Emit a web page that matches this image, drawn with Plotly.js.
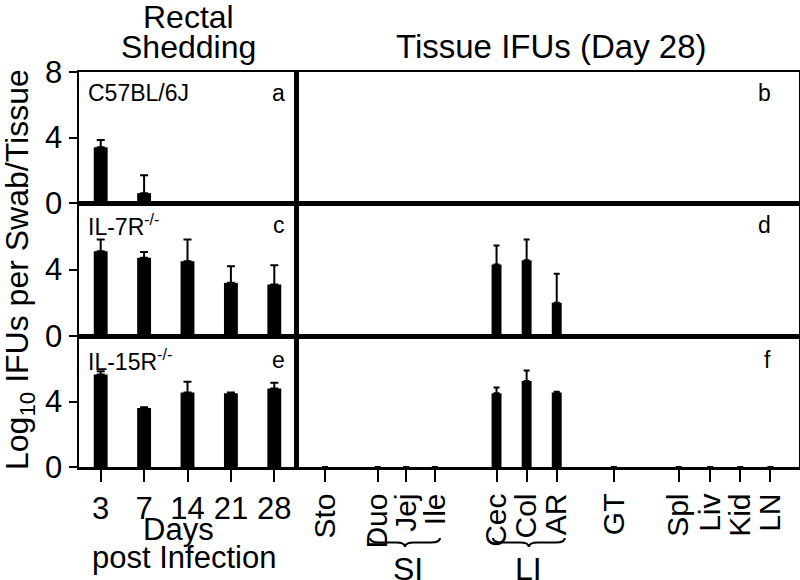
<!DOCTYPE html>
<html>
<head>
<meta charset="utf-8">
<script src="https://cdn.plot.ly/plotly-3.0.1.min.js"></script>
<style>
  html, body { margin: 0; padding: 0; background: #fff; }
  #chart { width: 800px; height: 580px; }
</style>
</head>
<body>
<div id="chart"></div>
<script>
// rectal shedding, log10 IFUs per swab
var days = ['3', '7', '14', '21', '28'];
var wtShed = [3.4, 0.6, 0, 0, 0];
var wtShedErr = [0.45, 1.1, 0, 0, 0];
var il7Shed = [5.1, 4.7, 4.5, 3.2, 3.1];
var il7ShedErr = [0.7, 0.35, 1.3, 1.0, 1.15];
var il15Shed = [5.65, 3.6, 4.55, 4.5, 4.8];
var il15ShedErr = [0.2, 0.05, 0.65, 0.05, 0.35];

// tissue IFUs at day 28
var tissues = ['Sto', 'Duo', 'Jej', 'Ile', 'Cec', 'Col', 'AR', 'GT', 'Spl', 'Liv', 'Kid', 'LN'];
var wtTissue = [0, 0, 0, 0, 0, 0, 0, 0, 0, 0, 0, 0];
var il7Tissue = [0, 0, 0, 0, 4.3, 4.55, 2.0, 0, 0, 0, 0, 0];
var il7TissueErr = [0, 0, 0, 0, 1.15, 1.25, 1.75, 0, 0, 0, 0, 0];
var il15Tissue = [0, 0, 0, 0, 4.5, 5.25, 4.55, 0, 0, 0, 0, 0];
var il15TissueErr = [0, 0, 0, 0, 0.35, 0.65, 0.05, 0, 0, 0, 0, 0];

var panelLabels = ['C57BL/6J', 'IL-7R<sup>-/-</sup>', 'IL-15R<sup>-/-</sup>'];
var panelLetters = ['a', 'b', 'c', 'd', 'e', 'f'];

// layout slots for the tissue axis (groups are spaced apart)
var tissueSlot = [0, 1.75, 2.7, 3.65, 5.7, 6.7, 7.7, 9.6, 11.75, 12.8, 13.8, 14.8];

var W = 800, H = 580;
function px(x) { return x / W; }
function py(y) { return (H - y) / H; }

var FONT = 'Liberation Sans, Arial, sans-serif';

// upper-only error bars
function upErr(errs, w) {
  if (!errs) return {visible: false};
  return {type: 'data', array: errs, symmetric: false,
    arrayminus: errs.map(function() { return 0; }),
    color: '#000', thickness: 2, width: w};
}
function shedTrace(vals, errs, n) {
  return {
    type: 'bar', x: days, y: vals, width: 0.32,
    xaxis: n === 1 ? 'x' : 'x' + n, yaxis: n === 1 ? 'y' : 'y' + n,
    marker: {color: '#000'}, error_y: upErr(errs, 4),
    hoverinfo: 'x+y', showlegend: false
  };
}
function tissueTrace(vals, errs, n) {
  return {
    type: 'bar', x: tissueSlot, y: vals, width: 0.33,
    xaxis: 'x' + n, yaxis: 'y' + n,
    marker: {color: '#000'}, error_y: upErr(errs, 3),
    hoverinfo: 'y', showlegend: false
  };
}

var data = [
  shedTrace(wtShed, wtShedErr, 1),
  tissueTrace(wtTissue, null, 2),
  shedTrace(il7Shed, il7ShedErr, 3),
  tissueTrace(il7Tissue, il7TissueErr, 4),
  shedTrace(il15Shed, il15ShedErr, 5),
  tissueTrace(il15Tissue, il15TissueErr, 6)
];

// panel rows in pixels (top, bottom)
var rows = [[72, 203], [203, 336], [336, 467]];
var leftCol = [79, 296], rightCol = [296, 799];

var layout = {
  width: W, height: H,
  margin: {l: 0, r: 0, t: 0, b: 0},
  paper_bgcolor: '#fff', plot_bgcolor: '#fff',
  font: {family: FONT, color: '#000', size: 31},
  annotations: [],
  shapes: []
};

function axKey(dir, n) { return dir + 'axis' + (n === 1 ? '' : n); }
function axId(dir, n) { return dir + (n === 1 ? '' : n); }

for (var r = 0; r < 3; r++) {
  var yDom = [py(rows[r][1]), py(rows[r][0])];
  var nL = 2 * r + 1, nR = 2 * r + 2;
  var bottom = (r === 2);
  layout[axKey('x', nL)] = {
    domain: [px(leftCol[0]), px(leftCol[1])], anchor: axId('y', nL),
    type: 'category', categoryorder: 'array', categoryarray: days,
    showline: true, mirror: true, linecolor: '#000', linewidth: 2.5,
    showgrid: false, zeroline: false,
    ticks: bottom ? 'outside' : '', ticklen: 12, tickwidth: 2, tickcolor: '#000',
    showticklabels: bottom, tickfont: {size: 31, family: FONT}
  };
  layout[axKey('x', nR)] = {
    domain: [px(rightCol[0]), px(rightCol[1])], anchor: axId('y', nR),
    range: [-0.963, 15.75],
    showline: true, mirror: true, linecolor: '#000', linewidth: 2.5,
    showgrid: false, zeroline: false,
    tickmode: 'array', tickvals: tissueSlot, ticktext: tissues,
    ticks: bottom ? 'outside' : '', ticklen: 12, tickwidth: 2, tickcolor: '#000',
    showticklabels: bottom, tickangle: -90, tickfont: {size: 30, family: FONT}
  };
  layout[axKey('y', nL)] = {
    domain: yDom, anchor: axId('x', nL), range: [0, 8],
    showline: true, mirror: true, linecolor: '#000', linewidth: 2.5,
    showgrid: false, zeroline: false,
    tickmode: 'array', tickvals: r === 0 ? [0, 4, 8] : [0, 4],
    ticks: 'outside', ticklen: 8, tickwidth: 2, tickcolor: '#000',
    tickfont: {size: 31, family: FONT}
  };
  layout[axKey('y', nR)] = {
    domain: yDom, anchor: axId('x', nR), range: [0, 8],
    showline: true, mirror: true, linecolor: '#000', linewidth: 2.5,
    showgrid: false, zeroline: false, ticks: '', showticklabels: false
  };

  var labelY = [93, 225, 360][r];
  layout.annotations.push({
    xref: 'paper', yref: 'paper', x: px(86), y: py(labelY),
    xanchor: 'left', yanchor: 'middle', showarrow: false,
    text: panelLabels[r], font: {size: 23, family: FONT}
  });
  layout.annotations.push({
    xref: 'paper', yref: 'paper', x: px(287), y: py(labelY),
    xanchor: 'right', yanchor: 'middle', showarrow: false,
    text: panelLetters[2 * r], font: {size: 23, family: FONT}
  });
  layout.annotations.push({
    xref: 'paper', yref: 'paper', x: px(773), y: py(labelY),
    xanchor: 'right', yanchor: 'middle', showarrow: false,
    text: panelLetters[2 * r + 1], font: {size: 23, family: FONT}
  });
}

function note(text, x, y, size, extra) {
  var a = {xref: 'paper', yref: 'paper', x: px(x), y: py(y), xanchor: 'center', yanchor: 'middle',
    showarrow: false, text: text, font: {size: size, family: FONT}};
  for (var k in extra) a[k] = extra[k];
  layout.annotations.push(a);
}
// column titles, axis titles
note('Rectal', 188, 17, 32);
note('Shedding', 188, 47, 32);
note('Tissue IFUs (Day 28)', 551, 46, 33);
note('Log<sub>10</sub> IFUs per Swab/Tissue', 19, 270, 32, {textangle: -90});
note('Days', 178, 529, 31);
note('post Infection', 184, 557, 31);

// braces grouping SI and LI
function brace(x0, x1, n) {
  var yTop = py(538), yMid = py(542.5), yTip = py(547);
  var xm = (x0 + x1) / 2, d = 0.3;
  return {
    type: 'path', xref: 'x' + n, yref: 'paper',
    path: 'M' + x0 + ',' + yTop + ' Q' + x0 + ',' + yMid + ' ' + (x0 + d) + ',' + yMid +
      ' L' + (xm - d) + ',' + yMid + ' Q' + xm + ',' + yMid + ' ' + xm + ',' + yTip +
      ' Q' + xm + ',' + yMid + ' ' + (xm + d) + ',' + yMid +
      ' L' + (x1 - d) + ',' + yMid + ' Q' + x1 + ',' + yMid + ' ' + x1 + ',' + yTop,
    line: {color: '#000', width: 2.2}
  };
}
layout.shapes.push(brace(1.5, 3.82, 6), brace(5.58, 7.97, 6));
layout.annotations.push(
  {xref: 'x6', yref: 'paper', x: 2.76, y: py(569), xanchor: 'center', yanchor: 'middle',
   showarrow: false, text: 'SI', font: {size: 32, family: FONT}},
  {xref: 'x6', yref: 'paper', x: 6.76, y: py(569), xanchor: 'center', yanchor: 'middle',
   showarrow: false, text: 'LI', font: {size: 32, family: FONT}}
);

Plotly.newPlot('chart', data, layout, {displayModeBar: false, staticPlot: true});
</script>
</body>
</html>
